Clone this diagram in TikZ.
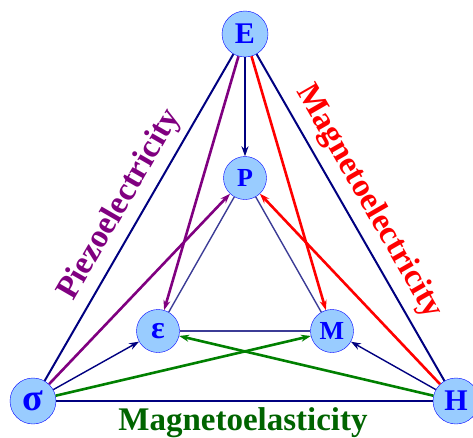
\documentclass[tikz,border=0pt]{standalone}
\usepackage{fontspec}
\setmainfont{Liberation Serif}
\usetikzlibrary{arrows.meta}
\definecolor{nodefill}{HTML}{99CCFF}
\definecolor{navyblue}{HTML}{000080}
\definecolor{innerblue}{HTML}{3C3C96}
\definecolor{purp}{HTML}{800080}
\definecolor{arrgreen}{HTML}{008000}
\definecolor{textgreen}{HTML}{006400}

\begin{document}
\begin{tikzpicture}[x=1pt, y=-1pt,
    field/.style={circle, draw=blue, fill=nodefill, text=blue, inner sep=0pt,
      minimum size=46pt, font=\bfseries\fontsize{30}{30}\selectfont},
    quantity/.style={field, minimum size=43pt, font=\bfseries\fontsize{26}{26}\selectfont},
    outerline/.style={draw=navyblue, line width=2pt},
    innerline/.style={draw=innerblue, line width=1.4pt},
    thinarrow/.style={draw=navyblue, line width=1.4pt, -{Stealth[length=10pt, width=7pt]}},
    coupling/.style={line width=2.6pt, -{Stealth[length=10pt, width=7pt]}},
    effect/.style={inner sep=0pt, font=\bfseries\fontsize{33}{33}\selectfont}
  ]
  \useasboundingbox (0,0) rectangle (473,437);
  \node[field] (E) at (245,34) {E};
  \node[quantity] (P) at (245,178) {P};
  \node[quantity, font=\bfseries\fontsize{32}{32}\selectfont] (eps) at (158,331) {ε};
  \node[quantity] (M) at (332,331) {M};
  \node[field, font=\bfseries\fontsize{38}{38}\selectfont] (sig) at (33,401) {σ};
  \node[field] (H) at (456,401) {H};
  % triangles
  \foreach \a/\b in {E/sig, sig/H, H/E}
    \draw[outerline] (\a) -- (\b);
  \foreach \a/\b in {P/eps, eps/M, M/P}
    \draw[innerline] (\a) -- (\b);
  % couplings
  \draw[thinarrow] (E) -- (P);
  \draw[thinarrow] (sig) -- (eps);
  \draw[thinarrow] (H) -- (M);
  \draw[coupling, purp] (E) -- (eps);
  \draw[coupling, purp] (sig) -- (P);
  \draw[coupling, red] (E) -- (M);
  \draw[coupling, red] (H) -- (P);
  \draw[coupling, arrgreen] (sig) -- (M);
  \draw[coupling, arrgreen] (H) -- (eps);
  \node[effect, purp, rotate=60] (piezo) at (120,205) {Piezoelectricity};
  \node[effect, red, rotate=-60] (magel) at (369,202) {Magnetoelectricity};
  \node[effect, textgreen, anchor=base] (magelas) at (243,430) {Magnetoelasticity};
\end{tikzpicture}
\end{document}
